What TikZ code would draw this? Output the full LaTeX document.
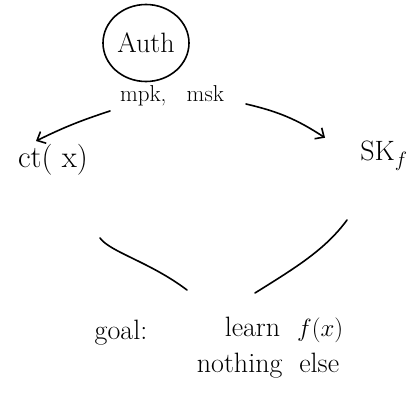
\documentclass[tikz,border=0pt]{standalone}
\usepackage{tikz}
\usetikzlibrary{shapes,arrows.meta,positioning}

\tikzset{
  hand/.style={font=\fontsize{28}{32}\selectfont},
  pen/.style={line width=1.6pt, line cap=round, line join=round},
  barb/.style={pen, -{Straight Barb[length=7pt, width=13pt]}}
}

\begin{document}
\begin{tikzpicture}[x=1pt, y=-1pt]
  \useasboundingbox (0,0) rectangle (413,399);
  % authority and the keys it hands out
  \node[hand, draw, pen, ellipse, minimum width=86pt, minimum height=77pt, inner sep=0pt] (auth) at (146,43) {Auth};
  \node[hand, font=\fontsize{23}{26}\selectfont] (keys) at (172,96) {mpk, \; msk};
  \node[hand, font=\fontsize{31}{34}\selectfont] (ct) at (53,160) {ct( x)};
  \node[hand] (sk) at (384,156) {SK$_f$};
  \coordinate (keysL) at (110,111);
  \coordinate (keysR) at (246,104);
  \draw[barb] (keysL) to[bend right=4] (ct.north west -| 36,152);
  \draw[barb] (keysR) to[bend left=10] (sk.north west -| 325,133);
  % funnel down to the goal
  \coordinate (fl1) at (100,238);
  \coordinate (fl2) at (187,290);
  \coordinate (fr1) at (255,293);
  \coordinate (fr2) at (347,220);
  \draw[pen] (fl1) .. controls (110,252) and (150,262) .. (fl2);
  \draw[pen] (fr1) .. controls (295,268) and (325,250) .. (fr2);
  \node[hand] (goal) at (121,333) {goal:};
  \node[hand] (learn) at (284,330) {learn \ $f(x)$};
  \node[hand] (nothing) at (268,366) {nothing \ else};
\end{tikzpicture}
\end{document}
